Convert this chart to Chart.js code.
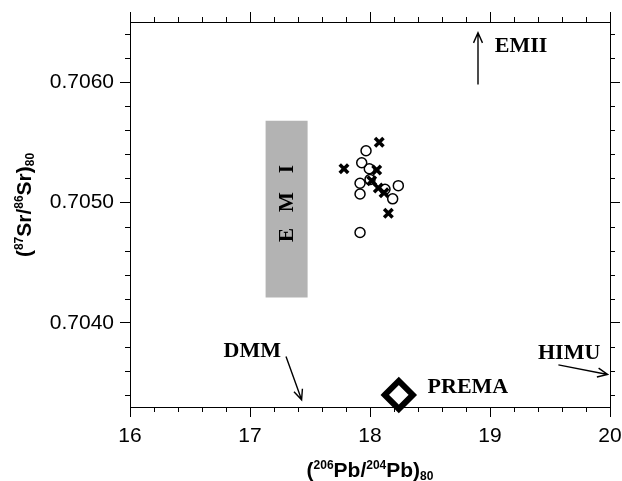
<!DOCTYPE html>
<html>
<head>
<meta charset="utf-8">
<script src="https://cdn.jsdelivr.net/npm/chart.js@4.4.0/dist/chart.umd.min.js"></script>
<style>
  html, body { margin: 0; padding: 0; background: #fff; }
</style>
</head>
<body>
<canvas id="srpb" width="622" height="481"></canvas>
<script>
// samples, (206Pb/204Pb)80 against (87Sr/86Sr)80
const circlePb = [17.967, 17.931, 17.994, 17.917, 17.917, 18.236, 18.189, 17.917, 18.125, 18.0];
const circleSr = [0.70543, 0.70533, 0.70528, 0.70516, 0.70507, 0.70514, 0.70503, 0.70475, 0.70511, 0.70519];
const crossPb = [18.077, 17.783, 18.056, 18.014, 18.069, 18.117, 18.153];
const crossSr = [0.70550, 0.70528, 0.70527, 0.70518, 0.70512, 0.70508, 0.70491];
const premaPb = [18.24];
const premaSr = [0.70340];

// EM I field (corners)
const emiPb = [17.13, 17.48];
const emiSr = [0.70421, 0.70568];

const pbRange = [16, 20];
const srRange = [0.7033, 0.7065];
const pbLabels = [16, 17, 18, 19, 20];
const srLabels = [0.7040, 0.7050, 0.7060];
const pbMinorStep = 0.2;
const srMinorStep = 0.0002;

// end member labels and arrows, in data units
const endMembers = [
  { name: 'EMII', at: [19.04, 0.70630], from: [18.90, 0.70598], to: [18.90, 0.70641] },
  { name: 'DMM', at: [16.78, 0.70376], from: [17.30, 0.70372], to: [17.43, 0.70336] },
  { name: 'HIMU', at: [19.40, 0.70375], from: [19.57, 0.70365], to: [19.98, 0.70357] },
  { name: 'PREMA', at: [18.48, 0.70346] }
];

const toXY = (xs, ys) => xs.map((v, i) => ({ x: v, y: ys[i] }));
const isMajorPb = v => pbLabels.some(m => Math.abs(v - m) < 1e-6);
const isMajorSr = v => srLabels.some(m => Math.abs(v - m) < 1e-9);

// tick list on the minor step, aligned to whole multiples of it
function minorTicks(range, step) {
  const out = [];
  const first = Math.ceil(range[0] / step - 1e-6);
  const last = Math.floor(range[1] / step + 1e-6);
  for (let k = first; k <= last; k++) out.push({ value: +(k * step).toFixed(6) });
  return out;
}

const SANS = '"Liberation Sans", Arial, sans-serif';
const SERIF = '"Liberation Serif", "Times New Roman", serif';

function richText(ctx, parts, cx, cy, angle) {
  ctx.save();
  ctx.translate(cx, cy);
  ctx.rotate(angle);
  let total = 0;
  parts.forEach(p => {
    ctx.font = p.font;
    p.w = ctx.measureText(p.t).width;
    total += p.w;
  });
  let x = -total / 2;
  ctx.textBaseline = 'alphabetic';
  ctx.textAlign = 'left';
  parts.forEach(p => {
    ctx.font = p.font;
    ctx.fillText(p.t, x, p.dy);
    x += p.w;
  });
  ctx.restore();
}

function arrow(ctx, x1, y1, x2, y2) {
  const a = Math.atan2(y2 - y1, x2 - x1);
  const L = 11, h = 0.42;
  ctx.beginPath();
  ctx.moveTo(x1, y1);
  ctx.lineTo(x2, y2);
  ctx.moveTo(x2 - L * Math.cos(a - h), y2 - L * Math.sin(a - h));
  ctx.lineTo(x2, y2);
  ctx.lineTo(x2 - L * Math.cos(a + h), y2 - L * Math.sin(a + h));
  ctx.stroke();
}

const extras = {
  id: 'extras',
  afterDraw(chart) {
    const { ctx, chartArea: a } = chart;
    const x = chart.scales.x, y = chart.scales.y;
    ctx.save();
    ctx.strokeStyle = '#000';
    ctx.fillStyle = '#000';
    ctx.lineWidth = 1;

    // minor ticks on all four sides
    ctx.beginPath();
    x.ticks.forEach(t => {
      if (isMajorPb(t.value)) return;
      const px = Math.round(x.getPixelForValue(t.value)) + 0.5;
      ctx.moveTo(px, a.bottom); ctx.lineTo(px, a.bottom + 5);
      ctx.moveTo(px, a.top); ctx.lineTo(px, a.top - 5);
    });
    y.ticks.forEach(t => {
      if (isMajorSr(t.value)) return;
      const py = Math.round(y.getPixelForValue(t.value)) + 0.5;
      ctx.moveTo(a.left, py); ctx.lineTo(a.left - 5, py);
      ctx.moveTo(a.right, py); ctx.lineTo(a.right + 5, py);
    });
    ctx.stroke();

    // EM I letters, a little above the middle of the field
    const ex = x.getPixelForValue((emiPb[0] + emiPb[1]) / 2);
    const ey = y.getPixelForValue((emiSr[0] + emiSr[1]) / 2) - 7;
    ctx.save();
    ctx.translate(ex, ey);
    ctx.rotate(-Math.PI / 2);
    ctx.font = 'bold 21px ' + SERIF;
    ctx.textAlign = 'center';
    ctx.textBaseline = 'middle';
    ['E', 'M', 'I'].forEach((c, i) => ctx.fillText(c, (i - 1) * 33, 1));
    ctx.restore();

    // end members
    ctx.font = 'bold 22px ' + SERIF;
    ctx.textAlign = 'left';
    ctx.textBaseline = 'middle';
    ctx.lineWidth = 1.4;
    endMembers.forEach(m => {
      ctx.fillText(m.name, x.getPixelForValue(m.at[0]), y.getPixelForValue(m.at[1]));
      if (m.from) {
        arrow(ctx, x.getPixelForValue(m.from[0]), y.getPixelForValue(m.from[1]),
                   x.getPixelForValue(m.to[0]), y.getPixelForValue(m.to[1]));
      }
    });

    // axis titles
    const big = 'bold 21px ' + SANS, small = 'bold 12px ' + SANS;
    richText(ctx, [
      { t: '(', font: big, dy: 0 }, { t: '206', font: small, dy: -8 },
      { t: 'Pb/', font: big, dy: 0 }, { t: '204', font: small, dy: -8 },
      { t: 'Pb)', font: big, dy: 0 }, { t: '80', font: small, dy: 3 }
    ], (a.left + a.right) / 2, 477, 0);
    richText(ctx, [
      { t: '(', font: big, dy: 0 }, { t: '87', font: small, dy: -8 },
      { t: 'Sr/', font: big, dy: 0 }, { t: '86', font: small, dy: -8 },
      { t: 'Sr)', font: big, dy: 0 }, { t: '80', font: small, dy: 3 }
    ], 31, 205, -Math.PI / 2);
    ctx.restore();
  }
};

const gridOf = major => ({
  display: true,
  drawOnChartArea: false,
  drawTicks: true,
  tickLength: 10,
  lineWidth: 1,
  tickColor: c => (c.tick && major(c.tick.value)) ? '#000' : 'rgba(0,0,0,0)'
});
const borderBlack = { display: true, color: '#000', width: 1 };
const pbTicks = s => { s.ticks = minorTicks(pbRange, pbMinorStep); };
const srTicks = s => { s.ticks = minorTicks(srRange, srMinorStep); };

new Chart(document.getElementById('srpb'), {
  type: 'scatter',
  data: {
    datasets: [
      {
        data: toXY(premaPb, premaSr),
        pointStyle: 'rectRot',
        pointRadius: 14,
        borderWidth: 6,
        borderColor: '#000',
        backgroundColor: '#fff',
        clip: false
      },
      {
        data: toXY(crossPb, crossSr),
        pointStyle: 'crossRot',
        pointRadius: 6,
        borderWidth: 3.5,
        borderColor: '#000'
      },
      {
        data: toXY(circlePb, circleSr),
        pointStyle: 'circle',
        pointRadius: 5,
        borderWidth: 1.5,
        borderColor: '#000',
        backgroundColor: 'rgba(0,0,0,0)'
      },
      {
        type: 'line',
        order: 10,
        data: [
          { x: emiPb[0], y: emiSr[0] }, { x: emiPb[1], y: emiSr[0] },
          { x: emiPb[1], y: emiSr[1] }, { x: emiPb[0], y: emiSr[1] }
        ],
        fill: 'shape',
        backgroundColor: '#b3b3b3',
        borderWidth: 0,
        pointRadius: 0,
        tension: 0
      }
    ]
  },
  options: {
    responsive: false,
    animation: false,
    layout: { padding: 0, autoPadding: false },
    plugins: { legend: { display: false }, tooltip: { enabled: false } },
    scales: {
      x: {
        type: 'linear', position: 'bottom',
        min: pbRange[0], max: pbRange[1],
        grid: gridOf(isMajorPb), border: borderBlack,
        afterBuildTicks: pbTicks,
        ticks: {
          autoSkip: false, maxRotation: 0, padding: 7,
          color: '#000', font: { family: SANS, size: 21 },
          callback: v => isMajorPb(v) ? String(Math.round(v)) : ''
        },
        afterFit: s => { s.height = 74; s.paddingLeft = 0; s.paddingRight = 0; }
      },
      x2: {
        type: 'linear', position: 'top',
        min: pbRange[0], max: pbRange[1],
        grid: gridOf(isMajorPb), border: borderBlack,
        afterBuildTicks: pbTicks,
        ticks: { autoSkip: false, display: false },
        afterFit: s => { s.height = 22; s.paddingLeft = 0; s.paddingRight = 0; }
      },
      y: {
        type: 'linear', position: 'left',
        min: srRange[0], max: srRange[1],
        grid: gridOf(isMajorSr), border: borderBlack,
        afterBuildTicks: srTicks,
        ticks: {
          autoSkip: false, padding: 6,
          color: '#000', font: { family: SANS, size: 21 },
          callback: v => isMajorSr(v) ? v.toFixed(4) : ''
        },
        afterFit: s => { s.width = 130; s.paddingTop = 0; s.paddingBottom = 0; }
      },
      y2: {
        type: 'linear', position: 'right',
        min: srRange[0], max: srRange[1],
        grid: gridOf(isMajorSr), border: borderBlack,
        afterBuildTicks: srTicks,
        ticks: { autoSkip: false, display: false },
        afterFit: s => { s.width = 12; s.paddingTop = 0; s.paddingBottom = 0; }
      }
    }
  },
  plugins: [extras]
});
</script>
</body>
</html>
